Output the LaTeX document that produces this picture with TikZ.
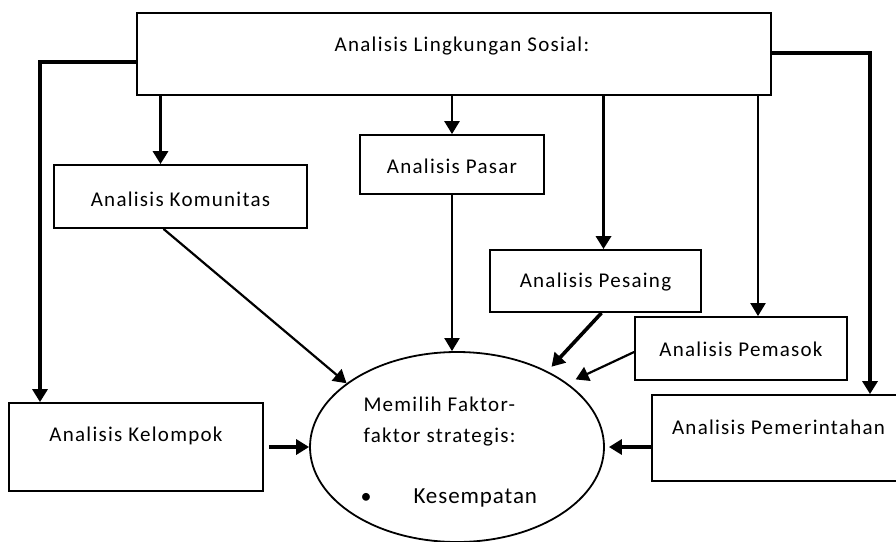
\documentclass[tikz,border=0pt]{standalone}
\usepackage{fontspec}
\setmainfont{Carlito}[LetterSpace=6]
\usetikzlibrary{arrows.meta, shapes.geometric}

\begin{document}
\begin{tikzpicture}[x=1pt, y=-1pt,
	kotak/.style={draw, line width=1.8pt, inner sep=0pt},
	tulisan/.style={anchor=base, font=\fontsize{21}{25}\selectfont},
	panah tebal/.style={line width=3.6pt, -{Triangle[width=15pt, length=13pt]}},
	panah sedang/.style={line width=2.6pt, -{Triangle[width=15pt, length=13pt]}},
	panah tipis/.style={line width=2.2pt, -{Triangle[width=15pt, length=13pt]}}]
	\useasboundingbox (0, 0) rectangle (896, 541);
	\clip (0, 0) rectangle (896, 541);
	\node[kotak, minimum width=634pt, minimum height=82pt, label={[tulisan, xshift=8pt, yshift=8pt]center:{Analisis Lingkungan Sosial:}}] (lingkungan) at (454, 54) {};
	\node[kotak, minimum width=253pt, minimum height=63pt, label={[tulisan, yshift=-2.5pt]center:{Analisis Komunitas}}] (komunitas) at (180.5, 196.5) {};
	\node[kotak, minimum width=184pt, minimum height=59pt, label={[tulisan, yshift=-1.5pt]center:{Analisis Pasar}}] (pasar) at (452, 164.5) {};
	\node[kotak, minimum width=211pt, minimum height=62pt, label={[tulisan, yshift=-1pt]center:{Analisis Pesaing}}] (pesaing) at (595.5, 281) {};
	\node[kotak, minimum width=212pt, minimum height=63pt, label={[tulisan, yshift=-0.5pt]center:{Analisis Pemasok}}] (pemasok) at (741, 348.5) {};
	\node[kotak, minimum width=253pt, minimum height=86pt, label={[tulisan, yshift=11pt]center:{Analisis Pemerintahan}}] (pemerintahan) at (778.5, 438) {};
	\node[kotak, minimum width=254pt, minimum height=88pt, label={[tulisan, yshift=11pt]center:{Analisis Kelompok}}] (kelompok) at (136, 447) {};
	\node[kotak, ellipse, minimum width=294pt, minimum height=190pt] (pilih) at (457, 447) {};
	
	\node[tulisan, anchor=base west] (pilih1) at (360, 411) {Memilih Faktor-};
	\node[tulisan, anchor=base west] (pilih2) at (360, 442) {faktor strategis:};
	\node[tulisan, anchor=center, font=\fontsize{22}{26}\selectfont] (titik) at (366, 498) {\textbullet};
	\node[tulisan, anchor=base west, font=\fontsize{23}{27}\selectfont\addfontfeature{LetterSpace=4}] (kesempatan) at (410, 503) {Kesempatan};
	
	\coordinate (kiri) at ([xshift=-96pt]kelompok.north);
	\coordinate (kanan) at ([xshift=91.5pt]pemerintahan.north);
	\coordinate (komunitasatas) at ([xshift=-20pt]komunitas.north);
	\coordinate (pesaingatas) at ([xshift=8pt]pesaing.north);
	\coordinate (pemasokatas) at ([xshift=17pt]pemasok.north);
	\draw[panah tebal] ([yshift=-8pt]lingkungan.west) -| (kiri);
	\draw[panah tebal] ([yshift=1pt]lingkungan.east) -| (kanan);
	\draw[panah tebal] (lingkungan.south -| komunitasatas) -- (komunitasatas);
	\draw[panah sedang] (lingkungan.south -| pasar.north) -- (pasar.north);
	\draw[panah tebal] (lingkungan.south -| pesaingatas) -- (pesaingatas);
	\draw[panah tipis] (lingkungan.south -| pemasokatas) -- (pemasokatas);
	
	\draw[panah tipis] ([xshift=-17pt]komunitas.south) -- (pilih.150);
	\draw[panah tipis] (pasar.south) -- (pasar.south |- pilih.north);
	\draw[panah tebal, shorten >=6pt] ([xshift=6pt]pesaing.south) -- (pilih.40);
	\draw[panah tipis, shorten >=9pt] ([yshift=-3.5pt]pemasok.west) -- (pilih.30);
	\draw[panah tebal, shorten <=5pt] (kelompok.east) -- (pilih.west);
	\draw[panah tebal, shorten >=4pt] (pemerintahan.west |- pilih.east) -- (pilih.east);
\end{tikzpicture}
\end{document}
